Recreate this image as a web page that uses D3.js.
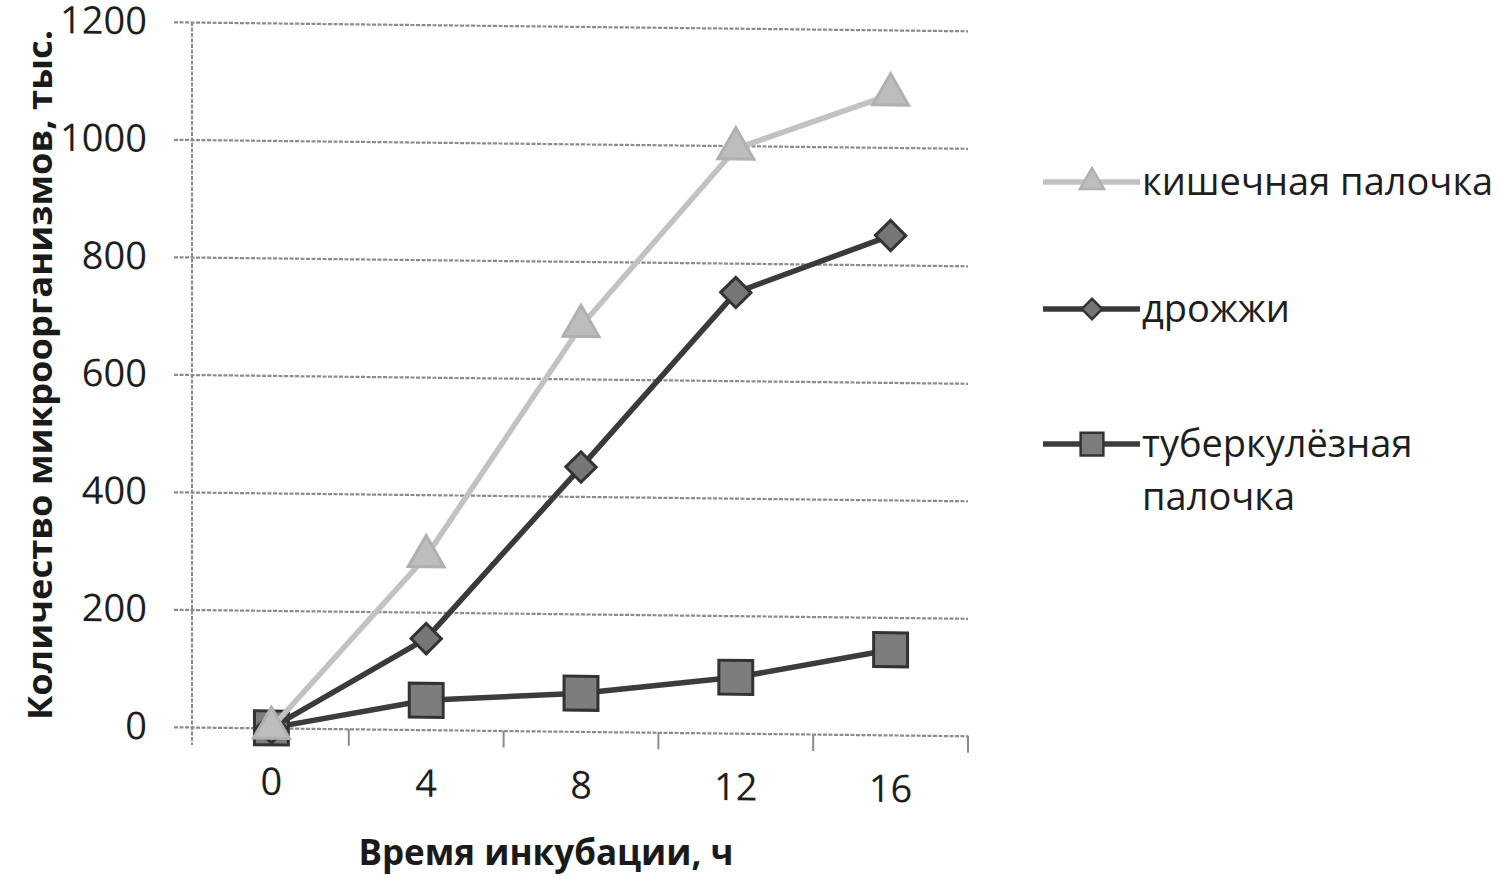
<!DOCTYPE html>
<html>
<head>
<meta charset="utf-8">
<script src="https://cdnjs.cloudflare.com/ajax/libs/d3/7.8.5/d3.min.js"></script>
<style>
  body { margin: 0; background: #fff; }
  svg { display: block; font-family: "Open Sans", sans-serif; }
</style>
</head>
<body>
<svg class="chart"></svg>
<script>
// hours of incubation (category axis)
var hours = ["0", "4", "8", "12", "16"];
var yTicks = [0, 200, 400, 600, 800, 1000, 1200];

// number of microorganisms, thousands
var ecoli = [0, 295, 690, 995, 1090];
var yeast = [0, 155, 450, 750, 850];
var tuberc = [0, 50, 65, 95, 145];

var seriesNames = ["кишечная палочка", "дрожжи", "туберкулёзная палочка"];

var W = 1500, H = 879;
var svg = d3.select(".chart").attr("width", W).attr("height", H);

//set up chart - origin at the y axis, slight skew like the scanned page
var plotW = 776;
var chart = svg.append("g")
    .attr("transform", "translate(192,0) skewY(0.65)");

var xChart = d3.scaleBand().domain(hours).range([2, plotW]);
var yChart = d3.scaleLinear().domain([0, 1200]).range([727, 22]);

//gridlines + y labels
var yAxis = d3.axisLeft(yChart)
    .tickValues(yTicks)
    .tickFormat(d3.format("d"))
    .tickSizeInner(-(plotW + 18))
    .tickSizeOuter(0)
    .tickPadding(27);

var yg = chart.append("g")
    .attr("transform", "translate(-18,0)")
    .call(yAxis);
yg.select(".domain").remove();
yg.selectAll(".tick line")
    .attr("stroke", "#8c8c8c")
    .attr("stroke-width", 2.2)
    .attr("stroke-dasharray", "4,1.5");
yg.selectAll(".tick text")
    .attr("fill", "#1e1e1e")
    .style("font-size", "38px")
    .style("font-family", "Open Sans, sans-serif");

//vertical axis line
chart.append("line")
    .attr("x1", 0).attr("x2", 0)
    .attr("y1", yChart(1200)).attr("y2", yChart(0) + 18)
    .attr("stroke", "#8c8c8c")
    .attr("stroke-width", 2)
    .attr("stroke-dasharray", "4,1.5");

//category boundary ticks on the x axis
var bounds = hours.map(function(d){ return xChart(d); }).concat([xChart.range()[1]]);
chart.selectAll(".xtick")
    .data(bounds.slice(1))
    .enter().append("line")
    .attr("class", "xtick")
    .attr("x1", function(d){ return d; })
    .attr("x2", function(d){ return d; })
    .attr("y1", yChart(0))
    .attr("y2", yChart(0) + 17)
    .attr("stroke", "#8c8c8c")
    .attr("stroke-width", 2);

//bottom labels
var xAxis = d3.axisBottom(xChart).tickSize(0).tickPadding(40);
var xg = chart.append("g")
    .attr("transform", "translate(0," + yChart(0) + ")")
    .call(xAxis);
xg.select(".domain").remove();
xg.selectAll(".tick text")
    .attr("fill", "#1e1e1e")
    .style("font-size", "38px")
    .style("font-family", "Open Sans, sans-serif");

//series
var series = [
    { name: seriesNames[2], values: tuberc, line: "#3c3c3c", fill: "#7d7d7d", stroke: "#333", shape: d3.symbolSquare, size: 1150, rot: 0 },
    { name: seriesNames[1], values: yeast, line: "#3a3a3a", fill: "#767676", stroke: "#333", shape: d3.symbolSquare, size: 460, rot: 45 },
    { name: seriesNames[0], values: ecoli, line: "#c2c2c2", fill: "#bdbdbd", stroke: "#b0b0b0", shape: d3.symbolTriangle, size: 560, rot: 0 }
];

var line = d3.line()
    .x(function(d, i){ return xChart(hours[i]) + xChart.bandwidth() / 2; })
    .y(function(d){ return yChart(d); });

series.forEach(function(s){
    chart.append("path")
        .datum(s.values)
        .attr("d", line)
        .attr("fill", "none")
        .attr("stroke", s.line)
        .attr("stroke-width", 5.5)
        .attr("stroke-linejoin", "round");

    chart.selectAll(null)
        .data(s.values)
        .enter().append("path")
        .attr("d", d3.symbol().type(s.shape).size(s.size))
        .attr("transform", function(d, i){
            return "translate(" + (xChart(hours[i]) + xChart.bandwidth() / 2) + "," + yChart(d) + ") rotate(" + s.rot + ")";
        })
        .attr("fill", s.fill)
        .attr("stroke", s.stroke)
        .attr("stroke-width", 3);
});

//axis titles
svg.append("text")
    .attr("transform", "translate(52,375) rotate(-90)")
    .attr("text-anchor", "middle")
    .attr("fill", "#1a1a1a")
    .attr("textLength", 690)
    .attr("lengthAdjust", "spacingAndGlyphs")
    .style("font-size", "34px")
    .style("font-weight", "bold")
    .text("Количество микроорганизмов, тыс.");

svg.append("text")
    .attr("x", 546)
    .attr("y", 865)
    .attr("text-anchor", "middle")
    .attr("fill", "#1a1a1a")
    .style("font-size", "35px")
    .style("font-weight", "bold")
    .text("Время инкубации, ч");

//legend
var legendItems = [
    { lines: ["кишечная палочка"], s: series[2], y: 182 },
    { lines: ["дрожжи"], s: series[1], y: 309 },
    { lines: ["туберкулёзная", "палочка"], s: series[0], y: 444 }
];
var legend = svg.append("g");
legendItems.forEach(function(item){
    var g = legend.append("g").attr("transform", "translate(0," + item.y + ")");
    g.append("line")
        .attr("x1", 1043).attr("x2", 1140)
        .attr("stroke", item.s.line)
        .attr("stroke-width", 5.5);
    g.append("path")
        .attr("d", d3.symbol().type(item.s.shape).size(item.s.size * 0.45))
        .attr("transform", "translate(1092,0) rotate(" + item.s.rot + ")")
        .attr("fill", item.s.fill)
        .attr("stroke", item.s.stroke)
        .attr("stroke-width", 2.5);
    item.lines.forEach(function(t, k){
        g.append("text")
            .attr("x", 1142)
            .attr("y", k * 53)
            .attr("dy", "0.35em")
            .attr("fill", "#1e1e1e")
            .style("font-size", "38px")
            .text(t);
    });
});
</script>
</body>
</html>
